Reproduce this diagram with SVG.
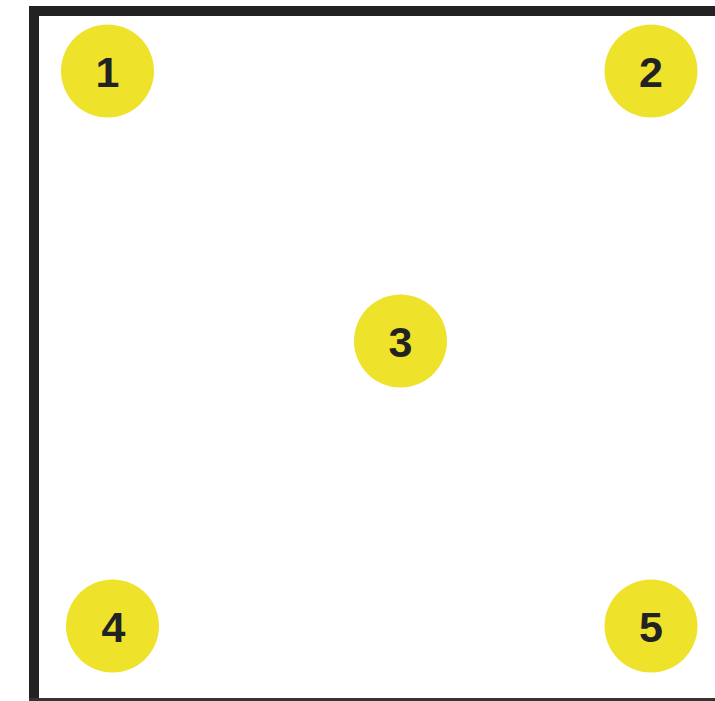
<svg xmlns="http://www.w3.org/2000/svg" width="715" height="701" viewBox="0 0 715 701">
<style>
.n circle{fill:#EEE22B}
.n text{font-family:"Liberation Sans",Arial,sans-serif;font-weight:bold;font-size:43px;fill:#222;text-anchor:middle;dominant-baseline:central}
.frame{fill:#222}
</style>
<rect width="715" height="701" fill="#fff"/>
<g id="frame">
<rect class="frame" x="29" y="6" width="686" height="10"/>
<rect class="frame" x="29" y="6" width="10" height="695"/>
<rect x="29" y="698" width="686" height="3" fill="#333"/>
</g>
<g id="connectors"></g>
<g id="node1" class="n"><circle cx="107.5" cy="71" r="46.5"/><text x="107.5" y="72">1</text></g>
<g id="node2" class="n"><circle cx="651" cy="71" r="46.5"/><text x="651" y="72">2</text></g>
<g id="node3" class="n"><circle cx="400.5" cy="341" r="46.5"/><text x="400.5" y="342">3</text></g>
<g id="node4" class="n"><circle cx="112.5" cy="626" r="46.5"/><text x="113.5" y="627">4</text></g>
<g id="node5" class="n"><circle cx="651" cy="626" r="46.5"/><text x="651" y="627">5</text></g>
</svg>
